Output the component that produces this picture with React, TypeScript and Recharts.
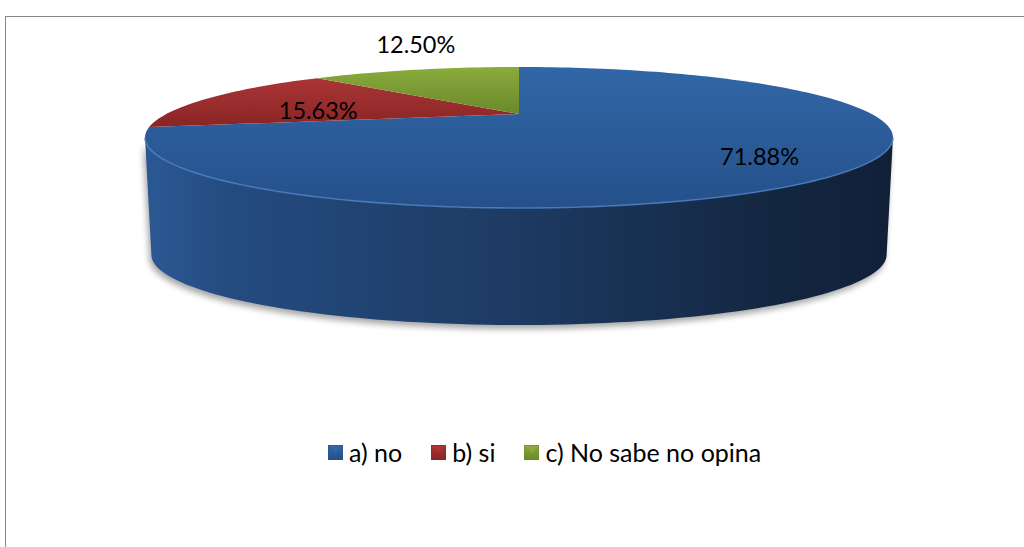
import React from 'react';
import { PieChart, Pie, Cell, Legend } from 'recharts';

// ---- data ----
const categories = ['a) no', 'b) si', 'c) No sabe no opina'];
const values = [71.88, 15.63, 12.5];
const baseColors = ['#2c5c99', '#9a2f2f', '#7a9a33'];
const topLight = ['#3167a7', '#aa3535', '#8aab3c'];
const topDark = ['#25508a', '#892525', '#6a892b'];

const data = categories.map((name, i) => ({ name, value: values[i] }));

// ---- 3D projection settings (styling) ----
const RX = 352.6;
const RY = 62.67;
const P = 1 / 3;
const DEPTH = 117;
const BOTTOM_SCALE = 0.983;
const FRONT_FROM = 180 + (Math.asin(P) * 180) / Math.PI;
const FRONT_TO = 360 - (Math.asin(P) * 180) / Math.PI;
const FONT = 'Lato, "Open Sans", "DejaVu Sans", sans-serif';

function project(cx: number, cy: number, f: number, deg: number, rx: number, ry: number): [number, number] {
  const a = (deg * Math.PI) / 180;
  const u = f * Math.cos(a);
  const v = f * Math.sin(a);
  const d = 1 + P * v;
  return [cx + (rx * u) / d, cy - (ry * v) / d];
}

function samples(a1: number, a2: number): number[] {
  const n = Math.max(2, Math.ceil(Math.abs(a2 - a1) / 1.5));
  const out: number[] = [];
  for (let i = 0; i <= n; i++) out.push(a1 + ((a2 - a1) * i) / n);
  return out;
}

const renderSlab = (props: any) => {
  const { cx, cy, startAngle, endAngle, index } = props;
  const lo = Math.min(startAngle, endAngle);
  const hi = Math.max(startAngle, endAngle);
  const walls: [number, number][] = [];
  for (const k of [-2, -1, 0, 1]) {
    const a1 = Math.max(lo, FRONT_FROM + 360 * k);
    const a2 = Math.min(hi, FRONT_TO + 360 * k);
    if (a2 > a1) walls.push([a1, a2]);
  }
  const wallPaths = walls.map(([a1, a2]) => {
    const top = samples(a1, a2).map((a) => project(cx, cy, 1, a, RX, RY));
    const bot = samples(a2, a1).map((a) => project(cx, cy + DEPTH, 1, a, RX * BOTTOM_SCALE, RY));
    const pts = [...top, ...bot];
    const d = 'M' + pts.map((p) => `${p[0].toFixed(2)},${p[1].toFixed(2)}`).join('L') + 'Z';
    const edge = 'M' + top.map((p) => `${p[0].toFixed(2)},${p[1].toFixed(2)}`).join('L');
    return { d, edge };
  });
  const topPts = samples(startAngle, endAngle).map((a) => project(cx, cy, 1, a, RX, RY));
  const topD =
    `M${cx},${cy}L` + topPts.map((p) => `${p[0].toFixed(2)},${p[1].toFixed(2)}`).join('L') + 'Z';
  return (
    <g>
      {wallPaths.map((w, i) => (
        <g key={i}>
          <path d={w.d} fill="#000" opacity={0.35} transform="translate(-2,4)" filter="url(#slabShadow)" />
          <path d={w.d} fill="url(#wallGrad)" />
        </g>
      ))}
      <path d={topD} fill={`url(#topGrad${index})`} />
      {wallPaths.map((w, i) => (
        <path key={'e' + i} d={w.edge} fill="none" stroke="#4a7cbd" strokeWidth={1.6} opacity={0.85} />
      ))}
    </g>
  );
};

const renderLabel = (props: any) => {
  const { cx, cy, midAngle, percent, value } = props;
  let x: number;
  let y: number;
  if (percent > 0.14) {
    const f = 0.6 + 0.2 * percent;
    [x, y] = project(cx, cy, f, midAngle, RX, RY);
    y += 7;
  } else {
    [x, y] = project(cx, cy, 1, midAngle, RX, RY);
    y -= 26;
  }
  return (
    <text
      x={x}
      y={y}
      textAnchor="middle"
      dominantBaseline="central"
      fill="#000"
      fontFamily={FONT}
      fontSize={23.5}
    >
      {`${Number(value).toFixed(2)}%`}
    </text>
  );
};

const renderLegend = (props: any) => {
  const payload = props.payload || [];
  return (
    <div style={{ display: 'flex', alignItems: 'center', fontFamily: FONT, fontSize: 25, color: '#000' }}>
      {payload.map((entry: any, i: number) => (
        <div key={i} style={{ display: 'flex', alignItems: 'center', marginRight: i < payload.length - 1 ? 29 : 0 }}>
          <svg width={15} height={15} style={{ display: 'block' }}>
            <rect x={0} y={0} width={15} height={15} fill={`url(#legGrad${i})`} stroke={topDark[i]} strokeWidth={1} />
            <polygon points="1,1 14,1 7.5,8" fill={topLight[i]} opacity={0.9} />
          </svg>
          <span style={{ marginLeft: 6, lineHeight: '28px' }}>{entry.value}</span>
        </div>
      ))}
    </div>
  );
};

export default function App() {
  return (
    <div style={{ position: 'absolute', left: 0, top: 0, width: 1024, height: 547, overflow: 'hidden', background: '#fff' }}>
      <svg width={0} height={0} style={{ position: 'absolute' }}>
        <defs>
          <linearGradient id="wallGrad" gradientUnits="userSpaceOnUse" x1={145} y1={0} x2={893} y2={0}>
            <stop offset="0" stopColor="#2b5894" />
            <stop offset="0.12" stopColor="#244b7f" />
            <stop offset="0.5" stopColor="#1d3a62" />
            <stop offset="0.85" stopColor="#132640" />
            <stop offset="1" stopColor="#112039" />
          </linearGradient>
          {topLight.map((c, i) => (
            <linearGradient key={i} id={`topGrad${i}`} x1="0" y1="0" x2="0" y2="1">
              <stop offset="0" stopColor={c} />
              <stop offset="1" stopColor={topDark[i]} />
            </linearGradient>
          ))}
          {topLight.map((c, i) => (
            <linearGradient key={'l' + i} id={`legGrad${i}`} x1="0" y1="0" x2="0" y2="1">
              <stop offset="0" stopColor={c} />
              <stop offset="1" stopColor={topDark[i]} />
            </linearGradient>
          ))}
          <filter id="slabShadow" x="-10%" y="-10%" width="120%" height="130%">
            <feGaussianBlur stdDeviation="3" />
          </filter>
        </defs>
      </svg>
      <div
        style={{
          position: 'absolute',
          left: 5,
          top: 16,
          width: 1100,
          height: 600,
          border: '1px solid #888',
          boxSizing: 'border-box',
        }}
      />
      <div style={{ position: 'absolute', left: 0, top: 0 }}>
        <PieChart width={1024} height={547} margin={{ top: 0, right: 0, bottom: 0, left: 0 }}>
          <Pie
            data={data}
            dataKey="value"
            nameKey="name"
            cx={519}
            cy={114}
            outerRadius={100}
            startAngle={90}
            endAngle={-270}
            stroke="none"
            isAnimationActive={false}
            shape={renderSlab}
            label={renderLabel}
            labelLine={false}
          >
            {data.map((d, i) => (
              <Cell key={d.name} fill={baseColors[i]} />
            ))}
          </Pie>
          <Legend
            verticalAlign="bottom"
            layout="horizontal"
            content={renderLegend}
            wrapperStyle={{ left: 328, top: 438, bottom: 'auto', width: 'auto' }}
          />
        </PieChart>
      </div>
    </div>
  );
}
